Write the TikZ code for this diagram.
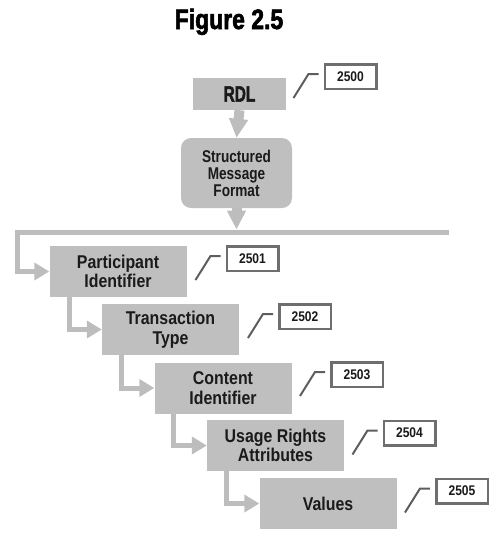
\documentclass[tikz,border=0pt]{standalone}
\usepackage{fontspec}
\usepackage{graphicx}
\setmainfont{Liberation Sans}
\newfontfamily\boxfont[FakeStretch=0.86]{Liberation Sans Bold}
\newfontfamily\smffont[FakeStretch=0.8]{Liberation Sans Bold}
\newfontfamily\heavyfont[FakeBold=2.5]{Liberation Sans Bold}
\usetikzlibrary{arrows.meta,calc}
\definecolor{boxgray}{HTML}{BFBFBF}
\definecolor{linkgray}{HTML}{BDBDBD}
\definecolor{taggray}{HTML}{6E6E6E}
\definecolor{inkgray}{HTML}{1A1A1A}
\tikzset{
  stage/.style={fill=boxgray, minimum width=137pt, minimum height=51pt, inner sep=0pt,
    align=center, text=inkgray, font=\boxfont\fontsize{18.5}{19.5}\selectfont},
  tag/.style={draw=taggray, line width=2.5pt, fill=white, minimum width=51.5pt,
    minimum height=24.5pt, inner sep=0pt, text=inkgray, font=\boxfont\fontsize{14}{15}\selectfont},
  leader/.style={draw=taggray!85!black, line width=2pt},
  flow/.style={draw=linkgray, line width=5pt, -{Triangle[length=15pt,width=17pt]}},
  feed/.style={draw=linkgray, line width=10pt, -{Triangle[length=19pt,width=18pt]}}
}
\newcommand{\tagline}[1]{%
  \draw[leader] ($(#1.west)+(-30,21.5)$) -- ($(#1.west)+(-15,-2.5)$) -- ($(#1.west)+(-5,-2.5)$);}
\begin{document}
\begin{tikzpicture}[x=1pt,y=-1pt]
  \useasboundingbox (0,0) rectangle (500,542);
  % title
  \node[anchor=base, text=black] (title) at (229,29)
    {\scalebox{0.82}[1]{\heavyfont\fontsize{28}{30}\selectfont Figure 2.5}};
  % top of the chain
  \node[stage, minimum width=93pt, minimum height=32pt] (rdl) at (239.5,94)
    {\scalebox{0.7}[1]{\heavyfont\fontsize{22}{24}\selectfont RDL}};
  \node[stage, minimum width=111pt, minimum height=70pt, rounded corners=10pt,
    font=\smffont\fontsize{17}{17}\selectfont] (smf) at (236.5,173)
    {Structured\\Message\\Format};
  \coordinate (barL) at (17,232);
  \coordinate (barR) at (449,232);
  % message fields
  \node[stage] (pi)  at (118,271.5)   {Participant\\Identifier};
  \node[stage] (tt)  at (170.5,329.5) {Transaction\\Type};
  \node[stage] (ci)  at (223,388)     {Content\\Identifier};
  \node[stage] (ura) at (275.5,445.5) {Usage Rights\\Attributes};
  \node[stage] (val) at (328,503.5)   {Values};
  % reference numerals
  \node[tag] (t2500) at (350.5,76.5) {2500};
  \node[tag] (t2501) at (252.5,258.5) {2501};
  \node[tag] (t2502) at (305,316.5) {2502};
  \node[tag] (t2503) at (357,374.5) {2503};
  \node[tag] (t2504) at (409.5,433) {2504};
  \node[tag] (t2505) at (462,491) {2505};
  \foreach \t in {t2500,t2501,t2502,t2503,t2504,t2505}
    {\tagline{\t}}
  % arrows
  \draw[feed] (rdl.south) -- (smf.north);
  \draw[feed] (smf.south) -- ($(smf.south |- barL)+(0,-2.5)$);
  \draw[flow] (barR) -- (barL) |- (pi.west);
  \draw[flow] ([xshift=20pt]pi.south west) |- (tt.west);
  \draw[flow] ([xshift=20pt]tt.south west) |- (ci.west);
  \draw[flow] ([xshift=19pt]ci.south west) |- (ura.west);
  \draw[flow] ([xshift=20pt]ura.south west) |- (val.west);
\end{tikzpicture}
\end{document}
